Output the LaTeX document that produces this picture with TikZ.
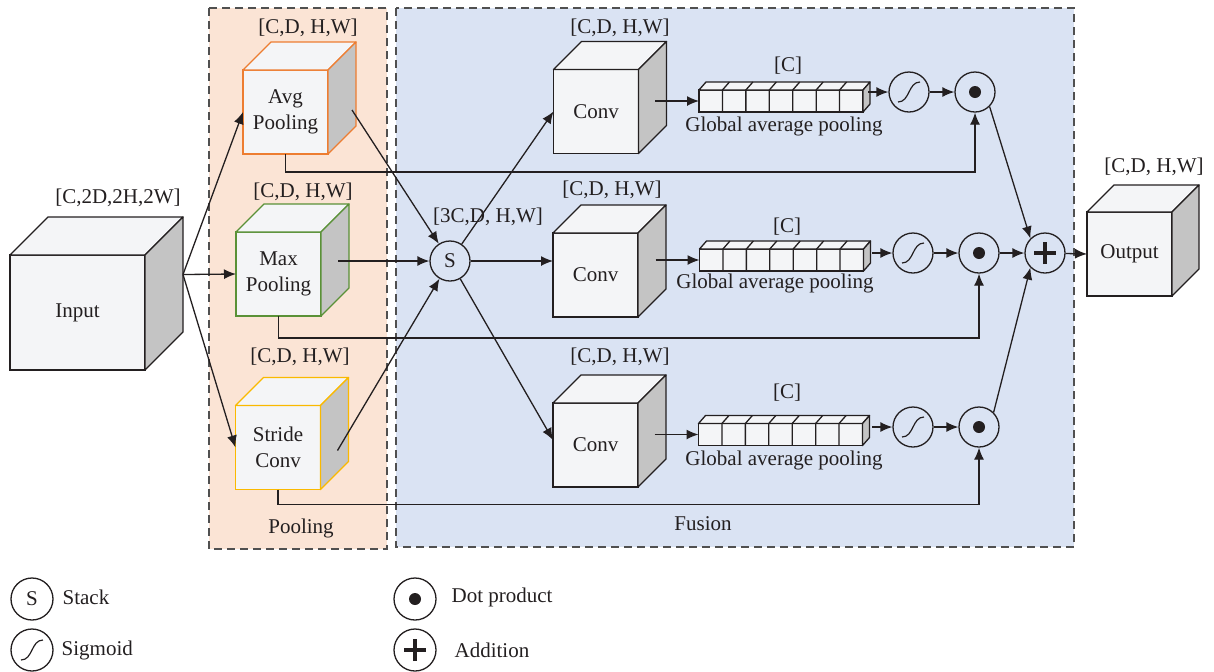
\documentclass[tikz,border=0pt]{standalone}
\usepackage{fontspec}
\setmainfont{Liberation Serif}
\usetikzlibrary{arrows.meta,calc}

\definecolor{edge}{RGB}{35,31,32}
\definecolor{poolbg}{RGB}{251,228,213}
\definecolor{fusebg}{RGB}{218,227,243}
\definecolor{regionedge}{RGB}{80,80,80}
\definecolor{cubeface}{RGB}{244,245,247}
\definecolor{cubeside}{RGB}{196,196,196}
\definecolor{avgcol}{RGB}{237,125,49}
\definecolor{maxcol}{RGB}{90,145,55}
\definecolor{stridecol}{RGB}{250,185,0}

% top and side faces of a cube whose front face is node #1
\newcommand{\cubefaces}[3]{%
  \filldraw[draw=#3, fill=cubeface, line join=round] (#1.north west) -- ++(#2,-#2) -- ([shift={(#2,-#2)}]#1.north east) -- (#1.north east) -- cycle;
  \filldraw[draw=#3, fill=cubeside, line join=round] (#1.north east) -- ([shift={(#2,-#2)}]#1.north east) -- ([shift={(#2,-#2)}]#1.south east) -- (#1.south east) -- cycle;
}
% seven-cell vector drawn on node #1
\newcommand{\gapfaces}[1]{%
  \filldraw[draw=edge, fill=cubeface, line join=round] (#1.north west) -- ++(7,-8) -- ([shift={(7,-8)}]#1.north east) -- (#1.north east) -- cycle;
  \filldraw[draw=edge, fill=cubeside, line join=round] (#1.north east) -- ([shift={(7,-8)}]#1.north east) -- ([shift={(7,-8)}]#1.south east) -- (#1.south east) -- cycle;
  \foreach \k in {1,...,6}
    \draw[edge] ($(#1.south west)!\k/7!(#1.south east)$) -- ($(#1.north west)!\k/7!(#1.north east)$) -- ++(7,-8);
}

\begin{document}
\begin{tikzpicture}[x=0.5pt, y=-0.5pt, line width=0.65pt,
    font=\fontsize{10.5}{13}\selectfont, text=edge,
    cube/.style={draw=edge, fill=cubeface, minimum width=42.5pt, minimum height=42pt, outer sep=0pt, inner sep=1pt, align=center},
    gap/.style={draw=edge, fill=cubeface, minimum width=82pt, minimum height=11pt, outer sep=0pt, inner sep=0pt},
    op/.style={draw=edge, circle, minimum size=20pt, inner sep=0pt},
    sig/.style={op, path picture={\draw[edge, line width=0.6pt]
        ([shift={(-5.5pt,-5pt)}]path picture bounding box.center) .. controls ([shift={(0.5pt,-5pt)}]path picture bounding box.center) and ([shift={(-0.5pt,5pt)}]path picture bounding box.center) .. ([shift={(5.5pt,5pt)}]path picture bounding box.center);}},
    dotp/.style={op, path picture={\fill[edge] (path picture bounding box.center) circle (3pt);}},
    addp/.style={op, path picture={\draw[edge, line width=1.8pt]
        ([xshift=-5.5pt]path picture bounding box.center) -- ([xshift=5.5pt]path picture bounding box.center)
        ([yshift=-5.5pt]path picture bounding box.center) -- ([yshift=5.5pt]path picture bounding box.center);}},
    legtext/.style={anchor=west, inner sep=0pt},
    arr/.style={draw=edge, -{Latex[length=6pt,width=5pt]}},
    region/.style={draw=regionedge, dash pattern=on 4pt off 2.5pt, line width=0.8pt}]
\useasboundingbox (0,0) rectangle (1214,671);

% regions
\filldraw[region, fill=poolbg] (209,8) rectangle (387,549);
\filldraw[region, fill=fusebg] (396,8) rectangle (1074,547);
\node (tPool) at (301,528) {Pooling};
\node (tFuse) at (703,524) {Fusion};

% input
\node[cube, minimum width=67.5pt, minimum height=57.5pt] (in) at (77.5,312.5) {Input};
\cubefaces{in}{38}{edge}
\node (tIn) at (118,198) {[C,2D,2H,2W]};
\coordinate (inport) at ([shift={(38,-38)}]in.east);

% pooling branches
\node[cube, draw=avgcol] (avg) at (285.5,112) {Avg\\Pooling};
\cubefaces{avg}{28}{avgcol}
\node (tAvg) at (308,28) {[C,D, H,W]};
\node[cube, draw=maxcol] (max) at (278.5,274) {Max\\Pooling};
\cubefaces{max}{28}{maxcol}
\node (tMax) at (303,192) {[C,D, H,W]};
\node[cube, draw=stridecol] (stride) at (278,447.5) {Stride\\Conv};
\cubefaces{stride}{28}{stridecol}
\node (tStride) at (300,357) {[C,D, H,W]};

% stack
\node[op] (s) at (450,261) {S};
\node (tS) at (488,217) {[3C,D, H,W]};

% fusion branches
\node[cube] (conv1) at (596,111.5) {Conv};
\cubefaces{conv1}{28}{edge}
\node (tConv1) at (620,28) {[C,D, H,W]};
\node[cube] (conv2) at (595.5,275) {Conv};
\cubefaces{conv2}{28}{edge}
\node (tConv2) at (612,190) {[C,D, H,W]};
\node[cube] (conv3) at (595.5,445) {Conv};
\cubefaces{conv3}{28}{edge}
\node (tConv3) at (620,357) {[C,D, H,W]};

\node[gap] (gap1) at (781,101) {};
\gapfaces{gap1}
\node (tC1) at (788,66) {[C]};
\node (tGap1) at (784,126) {Global average pooling};
\node[gap] (gap2) at (781.5,260) {};
\gapfaces{gap2}
\node (tC2) at (787,227) {[C]};
\node (tGap2) at (775,283) {Global average pooling};
\node[gap] (gap3) at (780.5,434.5) {};
\gapfaces{gap3}
\node (tC3) at (787,393) {[C]};
\node (tGap3) at (784,460) {Global average pooling};

\node[sig] (sg1) at (909,92) {};
\node[sig] (sg2) at (913,253) {};
\node[sig] (sg3) at (913,427) {};
\node[dotp] (dp1) at (975,92) {};
\node[dotp] (dp2) at (979,253) {};
\node[dotp] (dp3) at (979,427) {};
\node[addp] (add) at (1045,253) {};

% output
\node[cube] (out) at (1129.5,254) {Output};
\cubefaces{out}{27}{edge}
\node (tOut) at (1154,167) {[C,D, H,W]};

% connections
\draw[arr] (inport) -- (avg.west);
\draw[arr] (inport) -- (max.west);
\draw[arr] (inport) -- (stride.west);
\draw[arr] ([shift={(24,-2)}]avg.east) -- (s);
\draw[arr] ([shift={(17,-13)}]max.east) -- (s.west);
\draw[arr] ([shift={(17,3)}]stride.east) -- (s);
\draw[arr] (s) -- (conv1.west);
\draw[arr] (s.east) -- (s -| conv2.west);
\draw[arr] (s) -- ([yshift=2.5pt]conv3.west);
\foreach \i in {1,2,3} {
  \draw[arr] ([xshift=-22pt]gap\i.west) -- (gap\i.west);
  \draw[arr] ([xshift=-10pt]sg\i.west) -- (sg\i.west);
  \draw[arr] (sg\i) -- (dp\i);
}
\draw[arr] (avg.south) -- ++(0,18) -| (dp1.south);
\draw[arr] (max.south) -- ++(0,22) -| (dp2.south);
\draw[arr] (stride.south) -- ++(0,15) -| (dp3.south);
\draw[arr] (dp1.south east) -- (add.north west);
\draw[arr] (dp2) -- (add);
\draw[arr] (dp3.north east) -- (add.south west);
\draw[arr] (add) -- (out.west);

% legend
\node[op, minimum size=21pt] (lgS) at (32,599) {S};
\node[legtext] (lgSt) at (62,597) {Stack};
\node[sig, minimum size=21pt] (lgSig) at (32,650) {};
\node[legtext] (lgSigt) at (61,650) {Sigmoid};
\node[dotp, minimum size=21pt] (lgDot) at (415,599) {};
\node[legtext] (lgDott) at (451,597) {Dot product};
\node[addp, minimum size=21pt] (lgAdd) at (415,650) {};
\node[legtext] (lgAddt) at (454,650) {Addition};
\end{tikzpicture}
\end{document}
